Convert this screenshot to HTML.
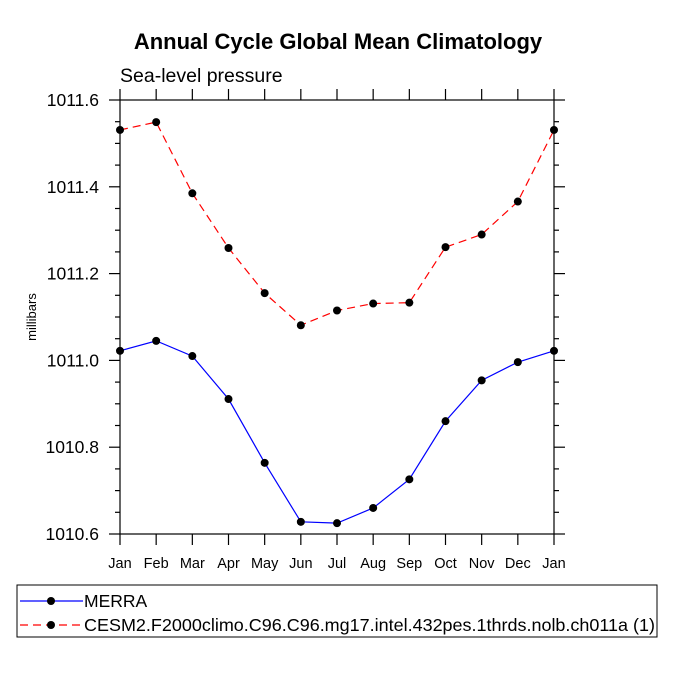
<!DOCTYPE html>
<html><head><meta charset="utf-8"><style>
body{margin:0;background:#fff}
svg{font-family:"Liberation Sans",Arial,sans-serif}
</style></head><body>
<svg id="chart" width="675" height="675" xmlns="http://www.w3.org/2000/svg">
<text x="338" y="49" text-anchor="middle" font-size="22" font-weight="bold">Annual Cycle Global Mean Climatology</text>
<text x="120" y="82" font-size="19.5">Sea-level pressure</text>
<text transform="translate(36,317) rotate(-90)" text-anchor="middle" font-size="13">millibars</text>
<g id="axes"></g>
<g id="series"></g>
<rect x="17" y="585" width="640" height="52" fill="none" stroke="#000" stroke-width="1"/>
<g>
<line x1="20" y1="601" x2="83" y2="601" stroke="#00f" stroke-width="1.2"/>
<circle cx="51" cy="601" r="4" fill="#000"/>
<text x="84" y="607" font-size="17.5">MERRA</text>
</g>
<g>
<line x1="20" y1="625" x2="83" y2="625" stroke="#f00" stroke-width="1.2" stroke-dasharray="8,5"/>
<circle cx="51" cy="625" r="4" fill="#000"/>
<text x="84" y="631" font-size="17.5" textLength="571" lengthAdjust="spacingAndGlyphs">CESM2.F2000climo.C96.C96.mg17.intel.432pes.1thrds.nolb.ch011a (1)</text>
</g>
</svg>
<script>
const months=["Jan","Feb","Mar","Apr","May","Jun","Jul","Aug","Sep","Oct","Nov","Dec","Jan"];
const merra=[1011.022,1011.045,1011.010,1010.911,1010.764,1010.628,1010.625,1010.660,1010.726,1010.860,1010.954,1010.996,1011.022];
const cesm=[1011.531,1011.549,1011.385,1011.259,1011.155,1011.081,1011.115,1011.131,1011.133,1011.261,1011.290,1011.366,1011.531];
const yTicks=["1010.6","1010.8","1011.0","1011.2","1011.4","1011.6"];
const X0=120,X1=554,Y0=534,Y1=100,YMIN=1010.6,YMAX=1011.6;
const ns="http://www.w3.org/2000/svg";
function xs(i){return X0+(X1-X0)*i/(months.length-1);}
function ys(v){return Y0-(v-YMIN)/(YMAX-YMIN)*(Y0-Y1);}
function mk(t,a,p){const e=document.createElementNS(ns,t);for(const k in a)e.setAttribute(k,a[k]);p.appendChild(e);return e;}
const ax=document.getElementById('axes');
const fr=mk('rect',{x:X0,y:Y1,width:X1-X0,height:Y0-Y1,fill:'none',stroke:'#000','stroke-width':1.2},ax);


months.forEach((m,i)=>{
  const x=xs(i);
  mk('line',{x1:x,y1:Y0,x2:x,y2:Y0+11,stroke:'#000','stroke-width':1.2},ax);
  mk('line',{x1:x,y1:Y1,x2:x,y2:Y1-11,stroke:'#000','stroke-width':1.2},ax);
  const t=mk('text',{x:x,y:568,'text-anchor':'middle','font-size':14.5},ax);
  t.textContent=m;
  
  
});
for(let v=YMIN;v<=YMAX+1e-9;v+=0.05){
  const y=ys(v);const major=Math.abs(Math.round(v*5)-v*5)<1e-6;const L=major?11:5;
  mk('line',{x1:X0,y1:y,x2:X0-L,y2:y,stroke:'#000','stroke-width':1.2},ax);
  mk('line',{x1:X1,y1:y,x2:X1+L,y2:y,stroke:'#000','stroke-width':1.2},ax);
}
yTicks.forEach(s=>{
  const t=mk('text',{x:99,y:ys(parseFloat(s))+6,'text-anchor':'end','font-size':17.5},ax);
  t.textContent=s;
  
  
});
const sg=document.getElementById('series');
function draw(vals,color,dash,name){
  const g=mk('g',{},sg);
  
  
  const pts=vals.map((v,i)=>xs(i)+','+ys(v)).join(' ');
  const a={points:pts,fill:'none',stroke:color,'stroke-width':1.2};
  if(dash)a['stroke-dasharray']=dash;
  mk('polyline',a,g);
  vals.forEach((v,i)=>{
    const c=mk('circle',{cx:xs(i),cy:ys(v),r:4,fill:'#000'},g);
    
    
  });
}
draw(merra,'#00f',null,'merra-series');
draw(cesm,'#f00','8,5','cesm2-series');
</script>
</body></html>
